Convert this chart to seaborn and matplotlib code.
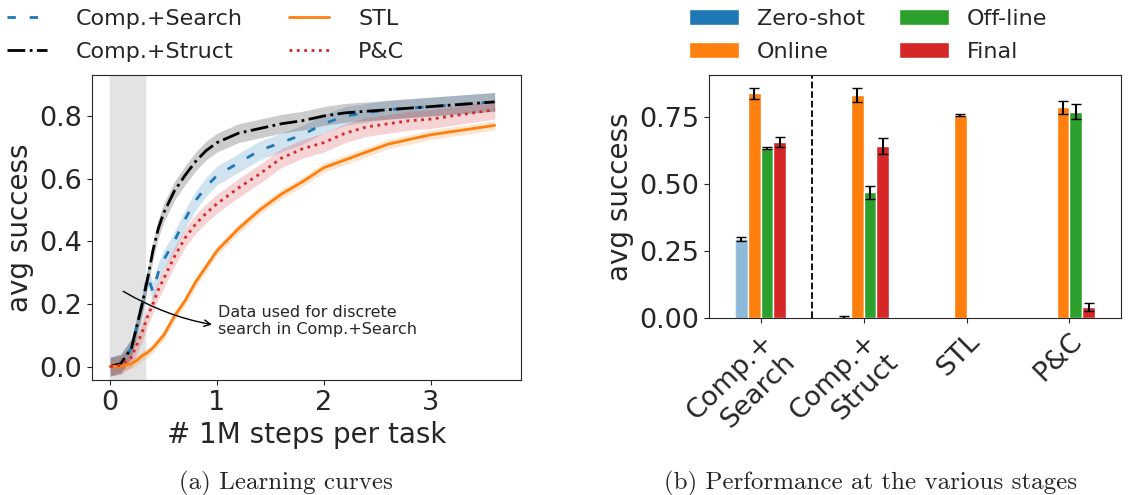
import numpy as np
import pandas as pd
import matplotlib
matplotlib.use("Agg")
import matplotlib.pyplot as plt
import seaborn as sns

# learning curves
steps = [0, 0.1, 0.2, 0.25, 0.3, 0.35, 0.4, 0.45, 0.5, 0.6, 0.7, 0.8, 0.9, 1.0,
         1.2, 1.4, 1.6, 1.8, 2.0, 2.2, 2.4, 2.6, 2.8, 3.0, 3.2, 3.4, 3.6]
comp_search = [0.0, 0.01, 0.06, 0.13, 0.2, 0.29, 0.24, 0.30, 0.34, 0.40, 0.47, 0.53, 0.575,
               0.61, 0.65, 0.69, 0.715, 0.74, 0.775, 0.80, 0.81, 0.82, 0.825, 0.83, 0.835, 0.84, 0.845]
comp_struct = [0.0, 0.01, 0.06, 0.13, 0.2, 0.28, 0.37, 0.44, 0.49, 0.56, 0.61, 0.655, 0.69,
               0.715, 0.745, 0.76, 0.775, 0.785, 0.80, 0.81, 0.815, 0.82, 0.825, 0.83, 0.835, 0.84, 0.845]
stl = [0.0, 0.002, 0.01, 0.02, 0.035, 0.045, 0.06, 0.08, 0.10, 0.16, 0.21, 0.27, 0.32,
       0.37, 0.44, 0.50, 0.55, 0.59, 0.635, 0.66, 0.685, 0.71, 0.725, 0.74, 0.75, 0.76, 0.77]
pc = [0.0, 0.005, 0.03, 0.07, 0.11, 0.16, 0.20, 0.245, 0.28, 0.35, 0.41, 0.455, 0.49,
      0.52, 0.57, 0.615, 0.665, 0.695, 0.715, 0.745, 0.765, 0.775, 0.785, 0.79, 0.80, 0.81, 0.82]
band_search, band_struct, band_stl, band_pc = 0.03, 0.03, 0.015, 0.03

# stage performance
methods = ["Comp.+\nSearch", "Comp.+\nStruct", "STL", "P&C"]
stages = ["Zero-shot", "Online", "Off-line", "Final"]
zero_shot = [0.295, 0.005, 0.0, 0.0]
online = [0.84, 0.833, 0.759, 0.787]
offline = [0.636, 0.47, 0.0, 0.77]
final = [0.658, 0.643, 0.0, 0.042]
zero_shot_err = [0.008, 0.003, 0.0, 0.0]
online_err = [0.02, 0.025, 0.005, 0.025]
offline_err = [0.005, 0.025, 0.0, 0.028]
final_err = [0.02, 0.03, 0.0, 0.015]

sns.set_style("ticks")
plt.rcParams["font.family"] = ["DejaVu Sans"]

fig = plt.figure(figsize=(11.33, 4.95), dpi=100)
ax1 = fig.add_axes([0.0812, 0.232, 0.379, 0.616])
ax2 = fig.add_axes([0.6258, 0.357, 0.3636, 0.491])

# ---- (a) learning curves
ax1.axvspan(0, 0.33, color="#e3e3e3", zorder=0)
curves = [
    ("Comp.+Search", comp_search, band_search, "tab:blue", (0, (3, 5))),
    ("Comp.+Struct", comp_struct, band_struct, "black", "-."),
    ("STL", stl, band_stl, "tab:orange", "-"),
    ("P&C", pc, band_pc, "tab:red", ":"),
]
for name, vals, band, col, ls in curves:
    v = np.array(vals)
    ax1.fill_between(steps, v - band, v + band, color=col, alpha=0.2, lw=0)
    sns.lineplot(x=steps, y=vals, ax=ax1, color=col, linestyle=ls, lw=2, label=name)

ax1.set_xlim(-0.17, 3.85)
ax1.set_ylim(-0.043, 0.93)
ax1.set_xticks([0, 1, 2, 3])
ax1.set_yticks([0.0, 0.2, 0.4, 0.6, 0.8])
ax1.tick_params(labelsize=19.5)
ax1.set_xlabel("# 1M steps per task", fontsize=20)
ax1.set_ylabel("avg success", fontsize=20)
ax1.annotate("Data used for discrete\nsearch in Comp.+Search",
             xy=(0.1, 0.245), xytext=(1.01, 0.145),
             fontsize=11.5, va="center",
             arrowprops=dict(arrowstyle="<-", color="black", lw=1,
                             connectionstyle="arc3,rad=-0.2"))
ax1.legend(loc="upper left", bbox_to_anchor=(-0.002, 1.0), bbox_transform=fig.transFigure,
           ncol=2, frameon=False, fontsize=16, handlelength=1.8, handletextpad=1.3,
           columnspacing=2.1, labelspacing=0.58, borderaxespad=0)

# ---- (b) stage performance
df = pd.DataFrame({
    "method": methods * 4,
    "stage": np.repeat(stages, 4),
    "value": zero_shot + online + offline + final,
})
palette = ["tab:blue", "tab:orange", "tab:green", "tab:red"]
sns.barplot(data=df, x="method", y="value", hue="stage", palette=palette,
            width=0.5, errorbar=None, ax=ax2, saturation=1)
errs = [zero_shot_err, online_err, offline_err, final_err]
for cont, err in zip(ax2.containers, errs):
    for bar, e in zip(cont, err):
        if e > 0:
            ax2.errorbar(bar.get_x() + bar.get_width() / 2, bar.get_height(), yerr=e,
                         fmt="none", ecolor="black", capsize=3.5, lw=1.5)
ax2.containers[0][0].set_alpha(0.5)
ax2.axvline(0.5, color="black", ls="--", lw=1.3)
ax2.set_xlim(-0.5, 3.5)
ax2.set_ylim(0, 0.907)
ax2.set_yticks([0.0, 0.25, 0.5, 0.75])
ax2.set_yticklabels(["0.00", "0.25", "0.50", "0.75"])
ax2.tick_params(labelsize=19.5)
plt.setp(ax2.get_xticklabels(), rotation=45, ha="right", rotation_mode="anchor")
ax2.set_xlabel("")
ax2.set_ylabel("avg success", fontsize=20)
ax2.legend(loc="upper left", bbox_to_anchor=(0.6006, 1.0), bbox_transform=fig.transFigure,
           ncol=2, frameon=False, fontsize=16, handlelength=2.25, columnspacing=1.55,
           labelspacing=0.58, borderaxespad=0)

fig.text(0.252, 0.012, "(a) Learning curves", fontsize=18, fontfamily="cmr10", ha="center")
fig.text(0.768, 0.012, "(b) Performance at the various stages", fontsize=18,
         fontfamily="cmr10", ha="center")

fig.savefig("out.png", dpi=100)
